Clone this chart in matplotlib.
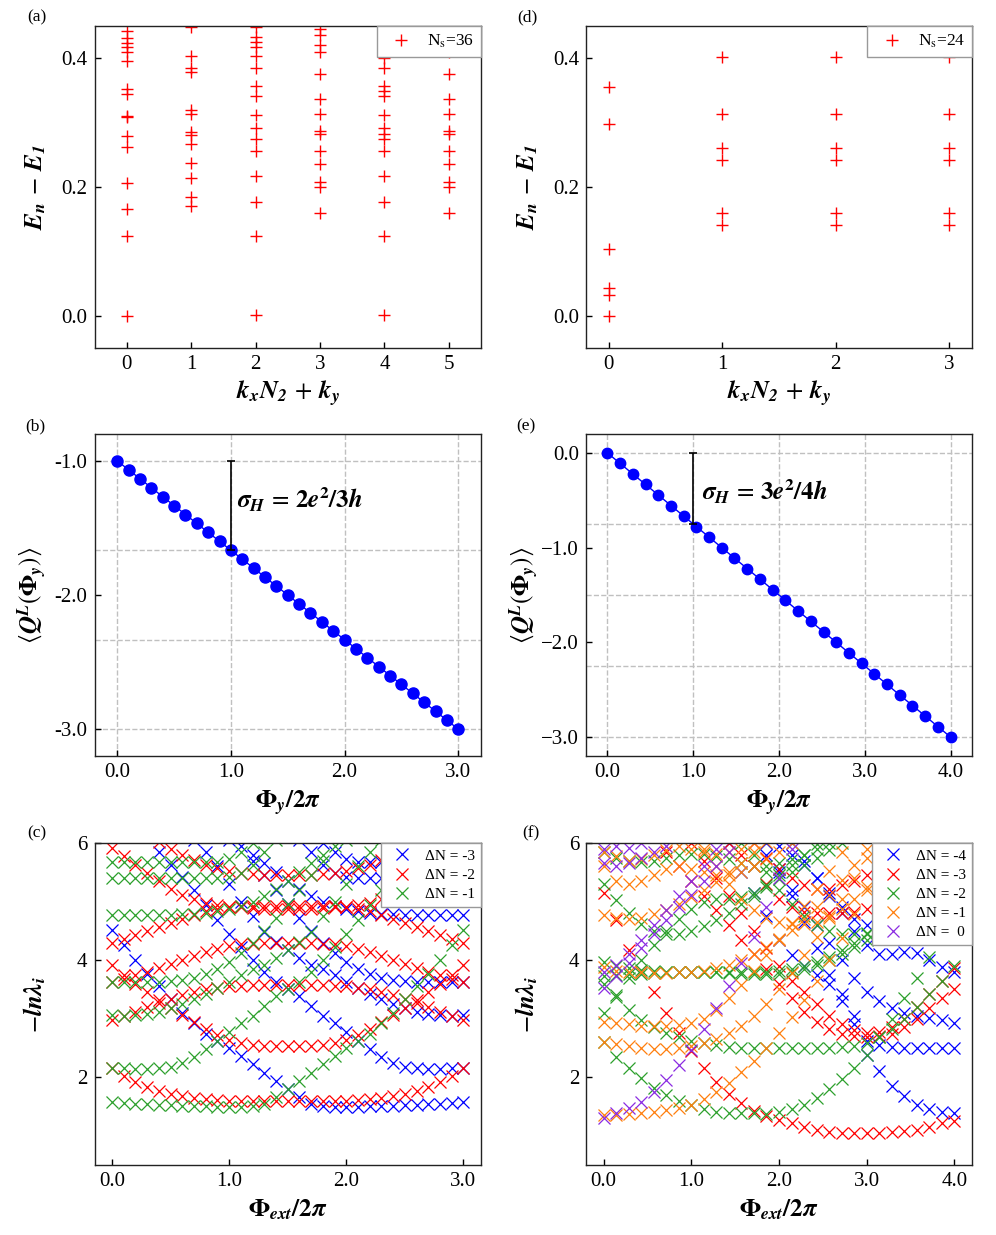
import numpy as np
import matplotlib
matplotlib.use('Agg')
import matplotlib.pyplot as plt

plt.rcParams['font.family'] = ['Liberation Serif', 'DejaVu Serif']
plt.rcParams['mathtext.fontset'] = 'stix'

# ---------------- (a) energy spectrum, Ns=36 ----------------
a_k0 = [0.0, 0.124, 0.166, 0.206, 0.262, 0.279, 0.308, 0.311, 0.345, 0.352, 0.396, 0.409, 0.417, 0.424, 0.432, 0.443]
a_k1 = [0.171, 0.184, 0.214, 0.237, 0.267, 0.281, 0.286, 0.313, 0.319, 0.378, 0.385, 0.404, 0.449]
a_k2 = [0.001, 0.124, 0.177, 0.217, 0.256, 0.274, 0.291, 0.312, 0.342, 0.357, 0.385, 0.403, 0.418, 0.425, 0.433, 0.448]
a_k3 = [0.160, 0.200, 0.208, 0.236, 0.256, 0.282, 0.287, 0.314, 0.336, 0.375, 0.410, 0.421, 0.436, 0.446]
a_k4 = [0.001, 0.124, 0.177, 0.217, 0.256, 0.274, 0.283, 0.291, 0.312, 0.342, 0.349, 0.357, 0.385, 0.400, 0.418, 0.425, 0.433, 0.448]
a_k5 = [0.160, 0.200, 0.208, 0.236, 0.256, 0.282, 0.287, 0.314, 0.336, 0.375, 0.410, 0.421, 0.436, 0.446]

# ---------------- (d) energy spectrum, Ns=24 ----------------
d_k0 = [0.0, 0.033, 0.043, 0.104, 0.298, 0.356]
d_k1 = [0.141, 0.160, 0.242, 0.260, 0.313, 0.402]
d_k2 = [0.141, 0.160, 0.242, 0.260, 0.313, 0.402]
d_k3 = [0.141, 0.160, 0.242, 0.260, 0.313, 0.402]

# ---------------- (b) charge pumping, 2/3 ----------------
b_phi = [0.0, 0.1, 0.2, 0.3, 0.4, 0.5, 0.6, 0.7, 0.8, 0.9, 1.0, 1.1, 1.2, 1.3, 1.4, 1.5,
         1.6, 1.7, 1.8, 1.9, 2.0, 2.1, 2.2, 2.3, 2.4, 2.5, 2.6, 2.7, 2.8, 2.9, 3.0]
b_q = [-1.000, -1.067, -1.133, -1.200, -1.267, -1.333, -1.400, -1.467, -1.533, -1.600, -1.667,
       -1.733, -1.800, -1.867, -1.933, -2.000, -2.067, -2.133, -2.200, -2.267, -2.333,
       -2.400, -2.467, -2.533, -2.600, -2.667, -2.733, -2.800, -2.867, -2.933, -3.000]
b_hlines = [-1.0, -1.667, -2.333, -3.0]
b_step = [-1.0, -1.667]

# ---------------- (e) charge pumping, 3/4 ----------------
e_phi = [0.0, 0.148, 0.296, 0.444, 0.593, 0.741, 0.889, 1.037, 1.185, 1.333, 1.481, 1.630, 1.778, 1.926,
         2.074, 2.222, 2.370, 2.519, 2.667, 2.815, 2.963, 3.111, 3.259, 3.407, 3.556, 3.704, 3.852, 4.0]
e_q = [0.0, -0.111, -0.222, -0.333, -0.444, -0.556, -0.667, -0.778, -0.889, -1.0, -1.111, -1.222, -1.333,
       -1.444, -1.556, -1.667, -1.778, -1.889, -2.0, -2.111, -2.222, -2.333, -2.444, -2.556, -2.667,
       -2.778, -2.889, -3.0]
e_hlines = [0.0, -0.75, -1.5, -2.25, -3.0]
e_step = [0.0, -0.75]

# ---------------- (c) entanglement spectrum flow, 3 fluxes ----------------
c_phi = [0.0, 0.1, 0.2, 0.3, 0.4, 0.5, 0.6, 0.7, 0.8, 0.9, 1.0, 1.1, 1.2, 1.3, 1.4, 1.5,
         1.6, 1.7, 1.8, 1.9, 2.0, 2.1, 2.2, 2.3, 2.4, 2.5, 2.6, 2.7, 2.8, 2.9, 3.0]
c_dn3 = [
    [4.52, 4.26, 4.00, 3.76, 3.55, 3.33, 3.10, 2.92, 2.74, 2.61, 2.50, 2.37, 2.22, 2.07, 1.93, 1.80,
     1.66, 1.55, 1.50, 1.49, 1.49, 1.49, 1.50, 1.50, 1.51, 1.52, 1.53, 1.54, 1.55, 1.56, 1.57],
    [6.70, 6.50, 6.30, 6.10, 5.85, 5.62, 5.42, 5.19, 4.94, 4.68, 4.45, 4.22, 4.00, 3.80, 3.62, 3.50,
     3.38, 3.22, 3.05, 2.93, 2.78, 2.62, 2.48, 2.34, 2.24, 2.18, 2.15, 2.14, 2.14, 2.15, 2.16],
    [6.9, 6.8, 6.7, 6.6, 6.5, 6.35, 6.2, 6.05, 5.85, 5.6, 5.3, 5.0, 4.75, 4.48, 4.31, 4.17,
     4.03, 3.91, 3.84, 3.74, 3.63, 3.52, 3.42, 3.33, 3.25, 3.18, 3.12, 3.08, 3.06, 3.05, 3.06],
    [7.0, 6.9, 6.8, 6.7, 6.6, 6.5, 6.4, 6.3, 6.2, 6.1, 6.05, 5.95, 5.7, 5.45, 5.2, 4.95,
     4.72, 4.5, 4.3, 4.12, 3.97, 3.85, 3.76, 3.70, 3.66, 3.64, 3.63, 3.62, 3.62, 3.62, 3.63],
    [7.2, 7.1, 7.0, 6.9, 6.8, 6.7, 6.6, 6.5, 6.4, 6.3, 6.2, 6.1, 5.8, 5.65, 5.5, 5.35,
     5.22, 5.1, 5.0, 4.93, 4.88, 4.84, 4.81, 4.79, 4.78, 4.77, 4.77, 4.77, 4.77, 4.77, 4.77],
    [7.0, 6.95, 6.9, 6.85, 6.8, 6.75, 6.7, 6.65, 6.6, 6.55, 6.5, 6.45, 6.4, 6.3, 6.25, 6.2,
     6.15, 6.1, 6.0, 5.85, 5.72, 5.68, 5.68, 5.68, 5.68, 5.68, 5.68, 5.68, 5.68, 5.68, 5.68],
    [7.1, 7.05, 7.0, 6.95, 6.9, 6.85, 6.8, 6.75, 6.7, 6.6, 6.5, 6.4, 6.3, 6.2, 6.15, 6.1,
     6.05, 5.85, 5.62, 5.48, 5.42, 5.41, 5.4, 5.4, 5.4, 5.4, 5.4, 5.4, 5.4, 5.4, 5.4],
]
c_dn2 = [
    [2.15, 2.02, 1.92, 1.84, 1.77, 1.72, 1.68, 1.65, 1.63, 1.61, 1.60, 1.60, 1.59, 1.59, 1.59, 1.59,
     1.59, 1.59, 1.59, 1.60, 1.60, 1.61, 1.63, 1.65, 1.68, 1.72, 1.77, 1.84, 1.92, 2.02, 2.15],
    [3.91, 3.74, 3.60, 3.46, 3.32, 3.19, 3.06, 2.94, 2.82, 2.72, 2.64, 2.58, 2.55, 2.54, 2.53, 2.53,
     2.53, 2.54, 2.55, 2.58, 2.64, 2.72, 2.82, 2.94, 3.06, 3.19, 3.32, 3.46, 3.60, 3.74, 3.91],
    [2.98, 3.05, 3.12, 3.20, 3.27, 3.34, 3.40, 3.45, 3.50, 3.53, 3.55, 3.56, 3.57, 3.57, 3.57, 3.57,
     3.57, 3.57, 3.57, 3.56, 3.55, 3.53, 3.50, 3.45, 3.40, 3.34, 3.27, 3.20, 3.12, 3.05, 2.98],
    [3.63, 3.68, 3.74, 3.80, 3.87, 3.94, 4.00, 4.07, 4.13, 4.19, 4.24, 4.27, 4.28, 4.29, 4.29, 4.29,
     4.29, 4.29, 4.28, 4.27, 4.24, 4.19, 4.13, 4.07, 4.00, 3.94, 3.87, 3.80, 3.74, 3.68, 3.63],
    [5.92, 5.78, 5.62, 5.48, 5.35, 5.22, 5.12, 5.04, 4.98, 4.94, 4.91, 4.90, 4.89, 4.88, 4.88, 4.88,
     4.88, 4.88, 4.89, 4.90, 4.91, 4.94, 4.98, 5.04, 5.12, 5.22, 5.35, 5.48, 5.62, 5.78, 5.92],
    [4.30, 4.36, 4.43, 4.50, 4.57, 4.64, 4.71, 4.77, 4.83, 4.87, 4.90, 4.92, 4.93, 4.93, 4.93, 4.93,
     4.93, 4.93, 4.93, 4.92, 4.90, 4.87, 4.83, 4.77, 4.71, 4.64, 4.57, 4.50, 4.43, 4.36, 4.30],
    [6.60, 6.45, 6.30, 6.15, 6.02, 5.90, 5.80, 5.71, 5.63, 5.57, 5.52, 5.49, 5.47, 5.46, 5.45, 5.45,
     5.45, 5.46, 5.47, 5.49, 5.52, 5.57, 5.63, 5.71, 5.80, 5.90, 6.02, 6.15, 6.30, 6.45, 6.60],
]
c_dn1 = [
    [1.57, 1.56, 1.55, 1.54, 1.53, 1.52, 1.51, 1.50, 1.50, 1.49, 1.49, 1.49, 1.50, 1.55, 1.66, 1.80,
     1.93, 2.07, 2.22, 2.37, 2.50, 2.61, 2.74, 2.92, 3.10, 3.33, 3.55, 3.76, 4.00, 4.26, 4.52],
    [2.16, 2.15, 2.14, 2.14, 2.15, 2.18, 2.24, 2.34, 2.48, 2.62, 2.78, 2.93, 3.05, 3.22, 3.38, 3.50,
     3.62, 3.80, 4.00, 4.22, 4.45, 4.68, 4.94, 5.19, 5.42, 5.62, 5.85, 6.10, 6.30, 6.50, 6.70],
    [3.06, 3.05, 3.06, 3.08, 3.12, 3.18, 3.25, 3.33, 3.42, 3.52, 3.63, 3.74, 3.84, 3.91, 4.03, 4.17,
     4.31, 4.48, 4.75, 5.0, 5.3, 5.6, 5.85, 6.05, 6.2, 6.35, 6.5, 6.6, 6.7, 6.8, 6.9],
    [3.63, 3.62, 3.62, 3.62, 3.63, 3.64, 3.66, 3.70, 3.76, 3.85, 3.97, 4.12, 4.3, 4.5, 4.72, 4.95,
     5.2, 5.45, 5.7, 5.95, 6.05, 6.1, 6.2, 6.3, 6.4, 6.5, 6.6, 6.7, 6.8, 6.9, 7.0],
    [4.77, 4.77, 4.77, 4.77, 4.77, 4.77, 4.78, 4.79, 4.81, 4.84, 4.88, 4.93, 5.0, 5.1, 5.22, 5.35,
     5.5, 5.65, 5.8, 6.1, 6.2, 6.3, 6.4, 6.5, 6.6, 6.7, 6.8, 6.9, 7.0, 7.1, 7.2],
    [5.68, 5.68, 5.68, 5.68, 5.68, 5.68, 5.68, 5.68, 5.68, 5.68, 5.72, 5.85, 6.0, 6.1, 6.15, 6.2,
     6.25, 6.3, 6.4, 6.45, 6.5, 6.55, 6.6, 6.65, 6.7, 6.75, 6.8, 6.85, 6.9, 6.95, 7.0],
    [5.4, 5.4, 5.4, 5.4, 5.4, 5.4, 5.4, 5.4, 5.4, 5.41, 5.42, 5.48, 5.62, 5.85, 6.05, 6.1,
     6.15, 6.2, 6.3, 6.4, 6.5, 6.6, 6.7, 6.75, 6.8, 6.85, 6.9, 6.95, 7.0, 7.05, 7.1],
]

# ---------------- (f) entanglement spectrum flow, 4 fluxes ----------------
f_phi = [0.0, 0.143, 0.286, 0.429, 0.571, 0.714, 0.857, 1.0, 1.143, 1.286, 1.429, 1.571, 1.714, 1.857,
         2.0, 2.143, 2.286, 2.429, 2.571, 2.714, 2.857, 3.0, 3.143, 3.286, 3.429, 3.571, 3.714, 3.857, 4.0]
f_dn4 = [
    [7.0, 7.0, 7.0, 7.0, 7.0, 7.0, 7.0, 7.0, 6.8, 6.4, 6.0, 5.5, 5.15, 4.75, 4.35, 4.08, 3.9, 3.75,
     3.6, 3.42, 3.05, 2.38, 2.1, 1.85, 1.68, 1.52, 1.46, 1.40, 1.38],
    [7.0, 7.0, 7.0, 7.0, 7.0, 7.0, 7.0, 7.0, 7.0, 7.0, 6.8, 6.4, 6.2, 6.0, 5.55, 5.1, 4.65, 4.2,
     3.75, 3.3, 2.9, 2.62, 2.55, 2.52, 2.5, 2.5, 2.5, 2.5, 2.5],
    [7.0, 7.0, 7.0, 7.0, 7.0, 7.0, 7.0, 7.0, 7.0, 7.0, 6.6, 6.4, 6.1, 5.8, 5.5, 5.2, 4.9, 4.6,
     4.3, 4.0, 3.7, 3.45, 3.3, 3.18, 3.1, 3.05, 3.01, 2.97, 2.93],
    [7.0, 7.0, 7.0, 7.0, 7.0, 7.0, 7.0, 7.0, 7.0, 7.0, 7.0, 6.8, 6.6, 6.4, 6.2, 6.0, 5.7, 5.4,
     5.1, 4.8, 4.5, 4.25, 4.1, 4.1, 4.14, 4.12, 4.0, 3.89, 3.8],
    [7.0, 7.0, 7.0, 7.0, 7.0, 7.0, 7.0, 7.0, 7.0, 7.0, 7.0, 6.6, 6.3, 6.1, 5.95, 5.8, 5.62, 5.4,
     5.15, 4.9, 4.7, 4.6, 4.55, 4.55, 4.6, 4.65, 4.7, 4.75, 4.8],
]
f_dn3 = [
    [5.14, 4.68, 4.17, 3.80, 3.45, 3.10, 2.75, 2.45, 2.15, 1.92, 1.72, 1.56, 1.43, 1.33, 1.27, 1.21,
     1.15, 1.10, 1.07, 1.05, 1.04, 1.04, 1.04, 1.06, 1.08, 1.10, 1.15, 1.21, 1.26],
    [6.9, 6.7, 6.5, 6.3, 6.1, 5.85, 5.6, 5.35, 5.1, 4.85, 4.6, 4.35, 4.1, 3.85, 3.6, 3.35,
     3.12, 2.95, 2.82, 2.74, 2.7, 2.69, 2.7, 2.74, 2.85, 3.0, 3.18, 3.35, 3.5],
    [7.2, 7.1, 7.0, 6.9, 6.7, 6.5, 6.3, 6.0, 5.7, 5.4, 5.1, 4.8, 4.5, 4.2, 3.9, 3.65,
     3.45, 3.25, 3.05, 2.9, 2.8, 2.76, 2.78, 2.85, 3.0, 3.2, 3.42, 3.65, 3.86],
    [7.0, 7.0, 7.0, 7.0, 7.0, 7.0, 7.0, 6.8, 6.6, 6.4, 6.2, 6.1, 6.0, 5.75, 5.55, 5.4,
     5.28, 5.22, 5.22, 5.28, 5.35, 5.45, 5.6, 5.75, 5.9, 6.05, 6.2, 6.35, 6.5],
    [7.0, 7.0, 7.0, 7.0, 7.0, 7.0, 7.0, 6.7, 6.4, 6.2, 6.0, 5.8, 5.6, 5.3, 5.05, 4.9,
     4.82, 4.8, 4.8, 4.8, 4.82, 4.88, 4.95, 5.05, 5.15, 5.25, 5.35, 5.45, 5.55],
]
f_dn2 = [
    [2.6, 2.35, 2.15, 1.98, 1.82, 1.7, 1.6, 1.53, 1.45, 1.4, 1.38, 1.38, 1.38, 1.37, 1.4, 1.46,
     1.53, 1.65, 1.8, 1.97, 2.15, 2.38, 2.68, 3.0, 3.35, 3.7, 4.05, 4.4, 4.75],
    [3.6, 3.37, 3.15, 2.98, 2.86, 2.76, 2.68, 2.62, 2.58, 2.55, 2.52, 2.5, 2.5, 2.5, 2.5, 2.5,
     2.5, 2.5, 2.5, 2.51, 2.53, 2.58, 2.68, 2.82, 3.0, 3.2, 3.42, 3.65, 3.9],
    [3.97, 3.9, 3.86, 3.83, 3.81, 3.8, 3.8, 3.8, 3.8, 3.8, 3.8, 3.8, 3.8, 3.8, 3.82, 3.85,
     3.9, 3.97, 4.06, 4.17, 4.3, 4.45, 4.6, 4.75, 4.9, 5.05, 5.2, 5.35, 5.5],
    [3.72, 3.74, 3.76, 3.77, 3.78, 3.79, 3.8, 3.8, 3.8, 3.79, 3.78, 3.77, 3.76, 3.76, 3.77, 3.8,
     3.85, 3.92, 4.0, 4.1, 4.22, 4.35, 4.5, 4.65, 4.8, 4.95, 5.1, 5.25, 5.4],
    [3.1, 3.4, 3.7, 4.0, 4.25, 4.5, 4.7, 4.88, 5.0, 5.05, 5.05, 5.08, 5.15, 5.25, 5.38, 5.5,
     5.62, 5.75, 5.88, 6.0, 6.15, 6.3, 6.5, 6.7, 6.9, 7.1, 7.3, 7.5, 7.7],
    [5.3, 5.02, 4.8, 4.62, 4.5, 4.45, 4.45, 4.5, 4.58, 4.68, 4.8, 4.95, 5.1, 5.28, 5.45, 5.62,
     5.8, 5.98, 6.15, 6.3, 6.5, 6.7, 6.9, 7.1, 7.3, 7.5, 7.7, 7.9, 8.1],
    [5.85, 5.75, 5.7, 5.68, 5.7, 5.75, 5.8, 5.82, 5.82, 5.78, 5.72, 5.65, 5.6, 5.6, 5.65, 5.72,
     5.8, 5.9, 6.0, 6.1, 6.2, 6.3, 6.4, 6.5, 6.6, 6.7, 6.8, 6.9, 7.0],
    [7.0, 7.0, 7.0, 7.0, 7.0, 7.0, 7.0, 7.0, 7.0, 6.6, 6.3, 6.0, 5.8, 5.5, 5.2, 4.95,
     4.75, 4.6, 4.5, 4.45, 4.44, 4.47, 4.55, 4.65, 4.78, 4.92, 5.08, 5.25, 5.42],
]
f_dn1 = [
    [1.35, 1.36, 1.37, 1.39, 1.41, 1.44, 1.48, 1.53, 1.62, 1.75, 1.9, 2.08, 2.28, 2.5, 2.75, 3.02,
     3.32, 3.65, 4.0, 4.38, 4.78, 5.2, 5.65, 6.1, 6.5, 6.8, 7.0, 7.2, 7.4],
    [2.95, 2.92, 2.9, 2.88, 2.87, 2.87, 2.89, 2.93, 3.0, 3.15, 3.35, 3.58, 3.82, 4.08, 4.35, 4.63,
     4.92, 5.22, 5.52, 5.85, 6.2, 6.5, 6.8, 7.0, 7.2, 7.4, 7.6, 7.8, 8.0],
    [2.6, 2.56, 2.53, 2.5, 2.48, 2.48, 2.5, 2.53, 2.58, 2.65, 2.75, 2.88, 3.05, 3.25, 3.5, 3.78,
     4.08, 4.4, 4.72, 5.05, 5.4, 5.75, 6.1, 6.5, 6.8, 7.0, 7.2, 7.4, 7.6],
    [3.88, 3.82, 3.8, 3.79, 3.78, 3.78, 3.79, 3.8, 3.82, 3.86, 3.92, 4.0, 4.1, 4.22, 4.36, 4.52,
     4.7, 4.9, 5.12, 5.36, 5.62, 5.9, 6.2, 6.5, 6.8, 7.0, 7.2, 7.4, 7.6],
    [4.77, 4.72, 4.7, 4.72, 4.78, 4.86, 4.96, 5.08, 5.2, 5.34, 5.5, 5.66, 5.84, 6.02, 6.2, 6.4,
     6.6, 6.8, 7.0, 7.2, 7.4, 7.6, 7.8, 8.0, 8.2, 8.4, 8.6, 8.8, 9.0],
    [5.6, 5.35, 5.3, 5.35, 5.45, 5.55, 5.6, 5.55, 5.5, 5.45, 5.45, 5.5, 5.6, 5.72, 5.85, 6.0,
     6.2, 6.4, 6.6, 6.8, 7.0, 7.2, 7.4, 7.6, 7.8, 8.0, 8.2, 8.4, 8.6],
    [5.85, 5.78, 5.7, 5.72, 5.8, 5.88, 5.95, 5.9, 5.85, 5.82, 5.85, 5.9, 6.0, 6.15, 6.3, 6.5,
     6.7, 6.9, 7.1, 7.3, 7.5, 7.7, 7.9, 8.1, 8.3, 8.5, 8.7, 8.9, 9.1],
    [7.0, 7.0, 7.0, 7.0, 7.0, 7.0, 6.6, 6.2, 5.9, 5.6, 5.3, 5.05, 4.85, 4.72, 4.65, 4.62,
     4.62, 4.65, 4.75, 4.88, 5.05, 5.25, 5.5, 5.75, 6.0, 6.3, 6.6, 6.9, 7.2],
]
f_dn0 = [
    [1.30, 1.38, 1.47, 1.58, 1.75, 1.96, 2.2, 2.47, 2.82, 3.18, 3.55, 3.95, 4.4, 4.9, 5.4, 5.9,
     6.4, 6.8, 7.2, 7.6, 8.0, 8.4, 8.8, 9.2, 9.6, 10.0, 10.4, 10.8, 11.2],
    [3.52, 3.72, 3.95, 4.2, 4.45, 4.68, 4.9, 5.12, 5.35, 5.6, 5.85, 6.1, 6.4, 6.7, 7.0, 7.3,
     7.6, 7.9, 8.2, 8.5, 8.8, 9.1, 9.4, 9.7, 10.0, 10.3, 10.6, 10.9, 11.2],
    [3.8, 3.92, 4.1, 4.35, 4.6, 4.85, 5.1, 5.35, 5.6, 5.9, 6.2, 6.5, 6.8, 7.1, 7.4, 7.7,
     8.0, 8.3, 8.6, 8.9, 9.2, 9.5, 9.8, 10.1, 10.4, 10.7, 11.0, 11.3, 11.6],
    [5.66, 5.6, 5.65, 5.75, 5.85, 5.95, 6.1, 6.3, 6.5, 6.7, 6.9, 7.1, 7.3, 7.5, 7.7, 7.9,
     8.1, 8.3, 8.5, 8.7, 8.9, 9.1, 9.3, 9.5, 9.7, 9.9, 10.1, 10.3, 10.5],
    [5.9, 5.95, 5.92, 6.0, 6.1, 6.2, 6.35, 6.5, 6.7, 6.9, 7.1, 7.3, 7.5, 7.7, 7.9, 8.1,
     8.3, 8.5, 8.7, 8.9, 9.1, 9.3, 9.5, 9.7, 9.9, 10.1, 10.3, 10.5, 10.7],
]

GREEN = '#2ca02c'
ORANGE = '#ff7f0e'
PURPLE = '#8a2be2'
W, H = 996, 1235
LABEL_FS = 18


def make_ax(left, top, right, bottom):  # pixel box -> figure axes
    ax = fig.add_axes([left / W, 1 - bottom / H, (right - left) / W, (bottom - top) / H])
    ax.tick_params(direction='in', length=4, width=1.0, labelsize=15, pad=5)
    for sp in ax.spines.values():
        sp.set_linewidth(1.0)
        sp.set_color('#222222')
    return ax


def style_legend(ax, **kw):
    leg = ax.legend(loc='upper right', borderaxespad=0, fancybox=False, framealpha=1,
                    edgecolor='#999999', handletextpad=0.5, **kw)
    leg.get_frame().set_linewidth(1.0)
    return leg


def set_labels(ax, xl, yl, ypos=-0.1):
    ax.set_xlabel(xl, fontsize=LABEL_FS)
    ax.set_ylabel(yl, fontsize=LABEL_FS)
    ax.yaxis.set_label_coords(-0.12, 0.5)
    ax.xaxis.set_label_coords(0.5, ypos)


fig = plt.figure(figsize=(W / 100, H / 100), dpi=100)

lab_en = r'$\mathbfit{E_n}\,-\,\mathbfit{E_1}$'
lab_k = r'$\mathbfit{k_xN_2}\,+\,\mathbfit{k_y}$'
lab_q = r'$\langle \mathbfit{Q}^{\mathbfit{L}}(\mathbf{\Phi}_{\mathbfit{y}})\rangle$'
lab_phy = r'$\mathbf{\Phi}_{\mathbfit{y}}\mathbf{/2}\mathbfit{\pi}$'
lab_lam = r'$-\mathbfit{ln\lambda_i}$'
lab_ext = r'$\mathbf{\Phi}_{\mathbfit{ext}}\mathbf{/2}\mathbfit{\pi}$'

# ---- (a) ----
ax = make_ax(94.5, 26, 481, 348)
for k, vals in enumerate([a_k0, a_k1, a_k2, a_k3, a_k4, a_k5]):
    ax.plot([k] * len(vals), vals, '+', color='red', ms=8, mew=1.0,
            label=r'N$_{\mathrm{s}}$=36' if k == 0 else None)
ax.set_xlim(-0.5, 5.5)
ax.set_ylim(-0.05, 0.45)
ax.set_xticks(range(6))
ax.set_yticks([0.0, 0.2, 0.4])
ax.set_yticklabels(['0.0', '0.2', '0.4'])
set_labels(ax, lab_k, lab_en, -0.095)
style_legend(ax, fontsize=12.5)

# ---- (d) ----
ax = make_ax(586, 26, 972, 348)
for k, vals in enumerate([d_k0, d_k1, d_k2, d_k3]):
    ax.plot([k] * len(vals), vals, '+', color='red', ms=8, mew=1.0,
            label=r'N$_{\mathrm{s}}$=24' if k == 0 else None)
ax.set_xlim(-0.2, 3.2)
ax.set_ylim(-0.05, 0.45)
ax.set_xticks(range(4))
ax.set_yticks([0.0, 0.2, 0.4])
ax.set_yticklabels(['0.0', '0.2', '0.4'])
set_labels(ax, lab_k, lab_en, -0.095)
style_legend(ax, fontsize=12.5)

# ---- (b) ----
ax = make_ax(94.5, 434, 481, 756)
ax.xaxis.grid(True, ls='--', color='#c0c0c0', lw=1.0)
for h in b_hlines:
    ax.axhline(h, ls='--', color='#c0c0c0', lw=1.0, zorder=0.5)
ax.plot(b_phi, b_q, '-o', color='blue', ms=8, lw=1.0)
ax.errorbar([1.0], [(b_step[0] + b_step[1]) / 2], yerr=[(b_step[0] - b_step[1]) / 2],
            color='black', capsize=3, lw=1.2, capthick=1.2)
ax.text(1.05, -1.29, r'$\mathbfit{\sigma_H}\,=\,\mathbf{2}\mathbfit{e}^{\mathbf{2}}\mathbf{/3}\mathbfit{h}$',
        fontsize=18, va='center')
ax.set_xlim(-0.2, 3.2)
ax.set_ylim(-3.2, -0.8)
ax.set_xticks([0, 1, 2, 3])
ax.set_xticklabels(['0.0', '1.0', '2.0', '3.0'])
ax.set_yticks([-1, -2, -3])
ax.set_yticklabels(['-1.0', '-2.0', '-3.0'])
set_labels(ax, lab_phy, lab_q)

# ---- (e) ----
ax = make_ax(586, 434, 972, 756)
ax.xaxis.grid(True, ls='--', color='#c0c0c0', lw=1.0)
for h in e_hlines:
    ax.axhline(h, ls='--', color='#c0c0c0', lw=1.0, zorder=0.5)
ax.plot(e_phi, e_q, '-o', color='blue', ms=7.5, lw=1.0)
ax.errorbar([1.0], [(e_step[0] + e_step[1]) / 2], yerr=[(e_step[0] - e_step[1]) / 2],
            color='black', capsize=3, lw=1.2, capthick=1.2)
ax.text(1.1, -0.41, r'$\mathbfit{\sigma_H}\,=\,\mathbf{3}\mathbfit{e}^{\mathbf{2}}\mathbf{/4}\mathbfit{h}$',
        fontsize=18, va='center')
ax.set_xlim(-0.25, 4.25)
ax.set_ylim(-3.2, 0.2)
ax.set_xticks([0, 1, 2, 3, 4])
ax.set_xticklabels(['0.0', '1.0', '2.0', '3.0', '4.0'])
ax.set_yticks([0, -1, -2, -3])
ax.set_yticklabels(['0.0', '\u22121.0', '\u22122.0', '\u22123.0'])
set_labels(ax, lab_phy, lab_q)

# ---- (c) ----
ax = make_ax(94.5, 843, 481, 1165)
for branches, col, lab in [(c_dn3, 'blue', '\u0394N = -3'), (c_dn2, 'red', '\u0394N = -2'),
                           (c_dn1, GREEN, '\u0394N = -1')]:
    for i, br in enumerate(branches):
        ax.plot(c_phi, br, 'x', color=col, ms=8, mew=0.9, label=lab if i == 0 else None)
ax.set_xlim(-0.15, 3.15)
ax.set_ylim(0.5, 6.0)
ax.set_xticks([0, 1, 2, 3])
ax.set_xticklabels(['0.0', '1.0', '2.0', '3.0'])
ax.set_yticks([2, 4, 6])
set_labels(ax, lab_ext, lab_lam)
style_legend(ax, fontsize=11, labelspacing=0.35)

# ---- (f) ----
ax = make_ax(586, 843, 972, 1165)
for branches, col, lab in [(f_dn4, 'blue', '\u0394N = -4'), (f_dn3, 'red', '\u0394N = -3'),
                           (f_dn2, GREEN, '\u0394N = -2'), (f_dn1, ORANGE, '\u0394N = -1'),
                           (f_dn0, PURPLE, '\u0394N =  0')]:
    for i, br in enumerate(branches):
        ax.plot(f_phi, br, 'x', color=col, ms=8, mew=0.9, label=lab if i == 0 else None)
ax.set_xlim(-0.2, 4.2)
ax.set_ylim(0.5, 6.0)
ax.set_xticks([0, 1, 2, 3, 4])
ax.set_xticklabels(['0.0', '1.0', '2.0', '3.0', '4.0'])
ax.set_yticks([2, 4, 6])
set_labels(ax, lab_ext, lab_lam)
style_legend(ax, fontsize=11, labelspacing=0.35)

# panel tags
for tag, px, py in [('(a)', 27, 9), ('(d)', 517, 9), ('(b)', 25, 418), ('(e)', 516, 418),
                    ('(c)', 27, 825), ('(f)', 522, 825)]:
    fig.text(px / W, 1 - py / H, tag, fontsize=12.5, ha='left', va='top')

fig.savefig('out.png', dpi=100)
